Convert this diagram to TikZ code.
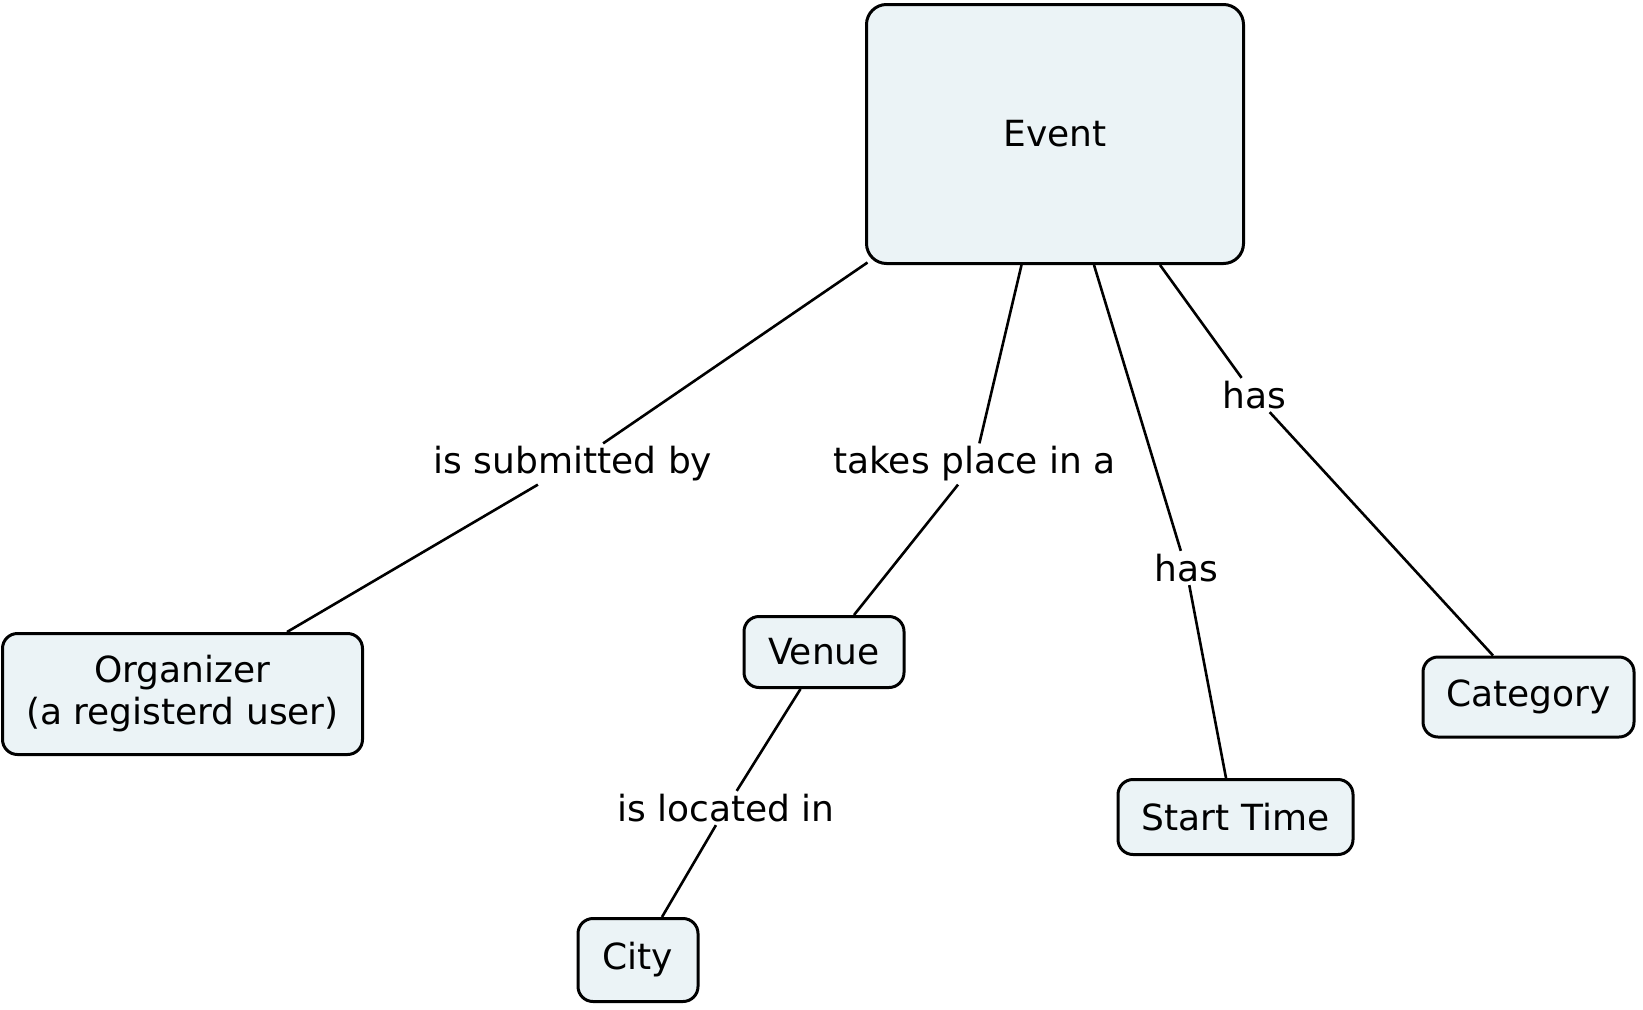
\documentclass[tikz,border=0pt]{standalone}
\usepackage{fontspec}
\setmainfont{DejaVu Sans}
\definecolor{boxfill}{RGB}{235,243,246}
\begin{document}
\begin{tikzpicture}[x=1pt,y=-1pt,
  box/.style={draw=black, line width=3pt, fill=boxfill, rounded corners=15pt,
    inner sep=0pt, font=\fontsize{36}{42}\selectfont, align=center},
  lab/.style={fill=white, inner sep=3pt, font=\fontsize{36}{42}\selectfont},
  conn/.style={line width=2.6pt}]
\useasboundingbox (0,0) rectangle (1643,1009);
% nodes
\node[box, rounded corners=20pt, minimum width=377pt, minimum height=259pt] (event) at (1055,134) {Event};
\node[box, minimum width=360pt, minimum height=121pt] (org) at (182.5,694) {Organizer\\(a registerd user)};
\node[box, minimum width=160pt, minimum height=71pt] (venue) at (824,652) {Venue};
\node[box, minimum width=120pt, minimum height=83pt] (city) at (638,960) {City};
\node[box, minimum width=235pt, minimum height=75pt] (start) at (1235.5,817) {Start Time};
\node[box, minimum width=211pt, minimum height=80pt] (cat) at (1528.5,697) {Category};
% labels
\node[lab] (l1) at (573,464) {is submitted by};
\node[lab] (l2) at (974.5,464) {takes place in a};
\node[lab] (l3) at (1186,568) {has};
\node[lab] (l4) at (1254,395) {has};
\node[lab] (l5) at (726,808) {is located in};
% connectors
\draw[conn] ([xshift=2.5pt,yshift=2.5pt]event.south west) -- (l1) -- ([xshift=104.5pt]org.north);
\draw[conn] ([xshift=-33.5pt]event.south) -- (l2) -- ([xshift=30pt]venue.north);
\draw[conn] ([xshift=39pt]event.south) -- (l3) -- ([xshift=-9.5pt]start.north);
\draw[conn] ([xshift=105pt]event.south) -- (l4) -- ([xshift=-35.5pt]cat.north);
\draw[conn] ([xshift=-23.5pt]venue.south) -- (l5) -- ([xshift=24pt]city.north);
\end{tikzpicture}
\end{document}
